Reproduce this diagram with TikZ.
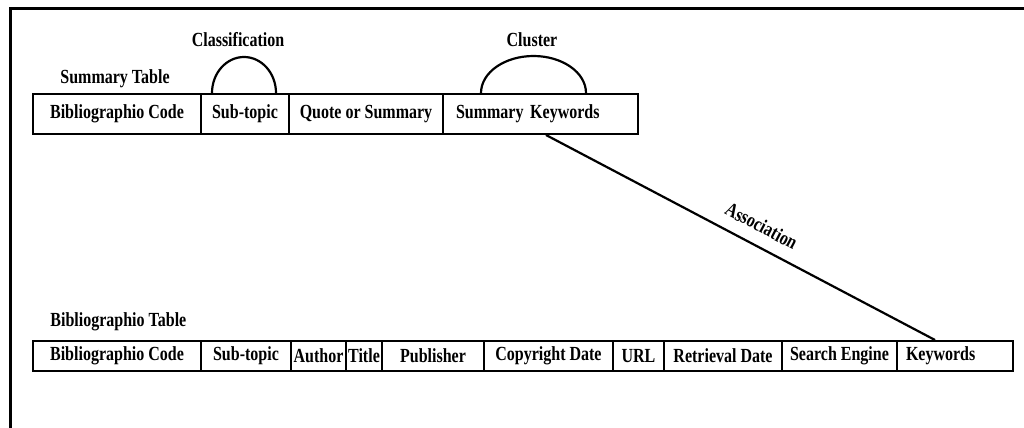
\documentclass[tikz,border=0pt]{standalone}
\usepackage{fontspec}
\newfontfamily\diafont{Liberation Serif}[FakeStretch=0.8]
\begin{document}
\begin{tikzpicture}[x=0.5pt,y=-0.5pt,
  every node/.style={font=\diafont\bfseries\fontsize{10}{12}\selectfont},
  cell/.style={draw, line width=1pt, inner sep=0pt, anchor=north west},
  scell/.style={cell, minimum height=20pt},
  bcell/.style={cell, minimum height=15pt},
  lbl/.style={inner sep=0pt},
  link/.style={line width=1.1pt}]
\useasboundingbox (0,0) rectangle (1024,428);
\draw[line width=1.5pt] (10,428) -- (10,8) -- (1024,8);
% Summary table
\node[lbl, anchor=west] (stab) at (60,79) {Summary Table};
\node[scell, minimum width=84pt] (s1) at (32,93) {Bibliographio Code};
\node[scell, minimum width=44pt] (s2) at (200,93) {Sub-topic};
\node[scell, minimum width=77pt] (s3) at (288,93) {Quote or Summary};
\node[scell, inner xsep=6.5pt, text width=84.5pt, align=left] (s4) at (442,93) {Summary Keywords};
% Bibliographic table
\node[lbl, anchor=west] (btab) at (50,322) {Bibliographio Table};
\node[bcell, minimum width=84pt] (b1) at (32,340) {Bibliographio Code};
\node[bcell, minimum width=45pt] (b2) at (200,340) {Sub-topic};
\node[bcell, minimum width=27.5pt] (b3) at (290,340) {Author};
\node[bcell, minimum width=18pt] (b4) at (345,340) {Title};
\node[bcell, minimum width=51pt] (b5) at (381,340) {Publisher};
\node[bcell, minimum width=64.5pt] (b6) at (483,340) {Copyright Date};
\node[bcell, minimum width=25.5pt] (b7) at (612,340) {URL};
\node[bcell, minimum width=59pt] (b8) at (663,340) {Retrieval Date};
\node[bcell, minimum width=57.5pt] (b9) at (781,340) {Search Engine};
\node[bcell, inner xsep=4.5pt, text width=49pt, align=left] (b10) at (896,340) {Keywords};
% Classification arc
\draw[link] ([xshift=6pt]s2.north west) arc[start angle=180, end angle=0, x radius=16pt, y radius=18pt];
\node[lbl] (cls) at (238,40) {Classification};
% Cluster arc
\draw[link] ([xshift=19.5pt]s4.north west) arc[start angle=180, end angle=0, x radius=26.25pt, y radius=18.5pt];
\node[lbl] (clu) at (532,40) {Cluster};
% Association
\draw[link] ([xshift=52pt]s4.south west) -- ([xshift=19.5pt]b10.north west)
  node[pos=0.53, sloped, above=6pt, lbl] (asc) {Association};
\end{tikzpicture}
\end{document}
